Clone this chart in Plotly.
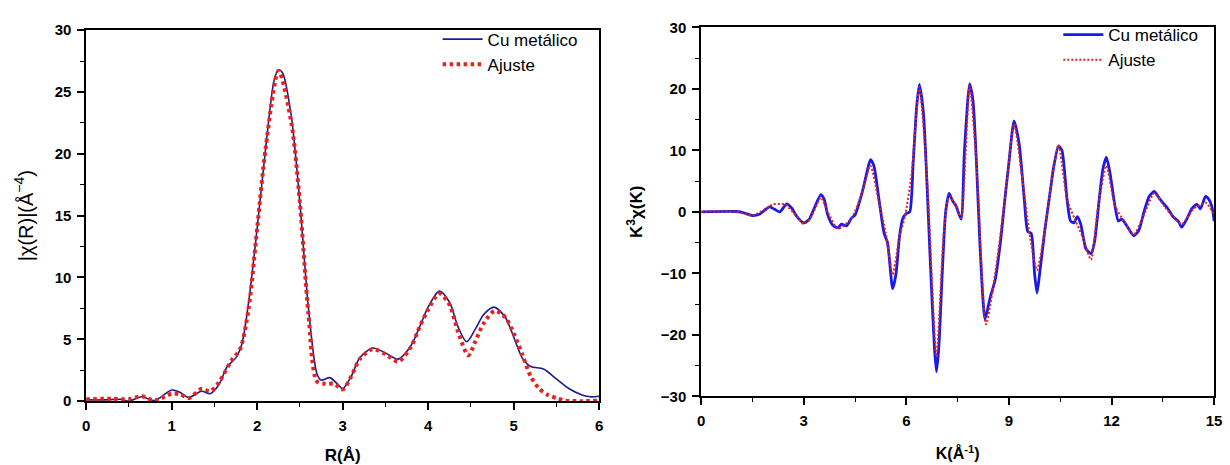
import plotly.graph_objects as go

# ---------------- Left panel: |chi(R)| ----------------
r_cu = [0, 0.2, 0.4, 0.5, 0.65, 0.8, 1.0, 1.1, 1.2, 1.35, 1.45, 1.55, 1.65, 1.75, 1.82, 1.9,
        2.0, 2.1, 2.2, 2.25, 2.3, 2.4, 2.5, 2.6, 2.7, 2.75, 2.85, 2.95, 3.0, 3.1, 3.2, 3.35,
        3.5, 3.65, 3.8, 3.9, 4.0, 4.13, 4.25, 4.35, 4.45, 4.55, 4.65, 4.77, 4.9, 5.0, 5.1,
        5.2, 5.35, 5.5, 5.65, 5.8, 5.9, 6.0]
chi_r_cu = [0.1, 0.1, 0.15, 0.0, 0.35, 0.05, 0.9, 0.7, 0.3, 0.8, 0.6, 1.3, 2.8, 3.5, 4.6, 8.0,
            14.0, 20.5, 26.0, 26.8, 26.5, 23.0, 16.0, 7.5, 2.2, 1.7, 1.9, 1.3, 1.0, 2.0, 3.5, 4.3,
            3.9, 3.4, 4.5, 6.0, 7.6, 8.9, 8.0, 6.0, 4.8, 5.8, 7.0, 7.6, 6.8, 5.2, 3.5,
            2.8, 2.6, 1.8, 1.0, 0.5, 0.35, 0.4]

r_fit = [0, 0.3, 0.5, 0.65, 0.8, 1.0, 1.1, 1.2, 1.35, 1.45, 1.55, 1.7, 1.8, 1.9, 2.0, 2.1,
         2.25, 2.4, 2.5, 2.6, 2.7, 2.8, 2.9, 3.0, 3.1, 3.2, 3.35, 3.5, 3.65, 3.8, 3.9, 4.0,
         4.13, 4.25, 4.35, 4.47, 4.55, 4.65, 4.78, 4.9, 5.0, 5.1, 5.2, 5.3, 5.4, 5.5, 5.6,
         5.8, 6.0]
chi_r_fit = [0.15, 0.2, 0.15, 0.4, 0.05, 0.6, 0.55, 0.25, 1.0, 0.8, 1.5, 3.3, 4.2, 7.5, 14.0, 20.5,
             26.7, 22.5, 16.0, 7.0, 1.6, 1.4, 1.4, 0.95, 2.0, 3.4, 4.2, 3.8, 3.2, 4.4, 6.0, 7.4,
             8.7, 7.8, 5.6, 3.7, 4.8, 6.3, 7.3, 6.8, 5.5, 3.8, 2.0, 1.0, 0.5, 0.25, 0.05,
             0.0, 0.05]

# ---------------- Right panel: k^3 chi(k) ----------------
k_cu = [0, 1.0, 1.2, 1.5, 1.7, 2.0, 2.15, 2.3, 2.5, 2.65, 2.8, 3.0, 3.15, 3.3, 3.5, 3.6, 3.7,
        3.85, 4.0, 4.1, 4.25, 4.4, 4.5, 4.7, 4.85, 4.95, 5.05, 5.2, 5.35, 5.45, 5.6, 5.7, 5.8,
        5.9, 6.0, 6.1, 6.2, 6.3, 6.38, 6.5, 6.6, 6.7, 6.82, 6.88, 6.95, 7.05, 7.15, 7.25, 7.35,
        7.45, 7.6, 7.7, 7.85, 7.95, 8.05, 8.15, 8.25, 8.3, 8.45, 8.6, 8.75, 8.9, 9.0, 9.15,
        9.3, 9.45, 9.55, 9.65, 9.75, 9.82, 9.9, 10.05, 10.2, 10.3, 10.45, 10.55, 10.7, 10.8,
        10.9, 11.0, 11.1, 11.25, 11.4, 11.5, 11.65, 11.75, 11.85, 11.95, 12.1, 12.2, 12.3,
        12.45, 12.65, 12.8, 12.95, 13.1, 13.25, 13.4, 13.5, 13.65, 13.8, 13.95, 14.05, 14.2,
        14.35, 14.5, 14.6, 14.75, 14.85, 14.95, 15.0]
k3chi_cu = [0, 0.05, -0.1, -0.6, -0.4, 0.8, 0.4, 0.0, 1.3, 0.6, -0.8, -1.8, -1.3, 0.5, 2.8, 2.0, -0.5,
            -2.2, -2.6, -2.0, -2.3, -1.0, -0.5, 3.0, 6.5, 8.5, 7.5, 2.0, -3.5, -5.0, -12.5, -10.0, -4.0,
            -1.0, -0.3, 0.0, 8.0, 17.0, 20.7, 16.0, 5.0, -8.0, -22.0, -26.0, -22.0, -10.0, 0.0, 3.0, 1.8,
            1.0, -1.2, 10.0, 20.8, 18.0, 8.0, -5.0, -15.0, -17.5, -14.0, -11.0, -5.0, 3.0, 8.0, 14.8,
            11.0, 2.0, -3.2, -3.5, -10.0, -13.2, -10.0, -3.0, 3.0, 7.0, 10.7, 10.0, 2.0, -1.5,
            -1.8, -0.8, -2.0, -6.0, -6.8, -5.0, 2.5, 7.0, 8.9, 6.5, 1.0, -1.5, -1.2,
            -2.3, -3.9, -3.0, 0.0, 2.5, 3.3, 2.2, 1.5, 0.5, -0.8, -1.5, -2.5, -1.2,
            0.5, 1.2, 0.5, 2.5, 2.0, 0.5, -1.5]

k_fit = [0, 1.0, 1.5, 2.0, 2.1, 2.45, 2.8, 3.0, 3.2, 3.5, 3.7, 4.0, 4.4, 4.7, 4.95, 5.2, 5.4,
         5.6, 5.8, 5.95, 6.15, 6.38, 6.6, 6.88, 7.1, 7.25, 7.45, 7.6, 7.85, 8.05, 8.33, 8.6,
         8.9, 9.15, 9.4, 9.6, 9.82, 10.05, 10.25, 10.45, 10.7, 10.95, 11.15, 11.4, 11.6, 11.85,
         12.1, 12.4, 12.65, 12.95, 13.25, 13.6, 14.05, 14.4, 14.75, 15.0]
k3chi_fit = [0, 0.05, -0.6, 0.9, 1.2, 1.2, -0.8, -2.0, -1.0, 2.3, 0.0, -2.8, -1.0, 3.0, 7.5, 1.5, -3.5,
             -10.2, -4.0, -1.0, 6.0, 20.3, 6.0, -23.5, -3.0, 2.5, 1.0, -1.0, 20.5, 8.0, -18.3, -10.0,
             3.0, 14.3, 5.0, -3.5, -9.5, -3.0, 5.0, 10.9, 2.0, -1.5, -4.0, -7.8, 0.5, 7.5,
             1.0, -1.8, -3.7, -0.5, 3.0, 0.5, -2.0, 0.5, 1.5, -0.5]

LEFT_BLUE = "#1c1c8f"
RIGHT_BLUE = "#1a1ae6"
RED = "#e3231c"
FONT = "Liberation Sans, Arial, sans-serif"

fig = go.Figure()

fig.add_trace(go.Scatter(x=r_cu, y=chi_r_cu, mode="lines", name="Cu metálico",
                         line=dict(color=LEFT_BLUE, width=1.6, shape="spline", smoothing=0.8),
                         xaxis="x", yaxis="y", legend="legend"))
fig.add_trace(go.Scatter(x=r_fit, y=chi_r_fit, mode="lines", name="Ajuste",
                         line=dict(color=RED, width=4, dash="3.5px,3.5px", shape="spline", smoothing=0.8),
                         xaxis="x", yaxis="y", legend="legend"))
fig.add_trace(go.Scatter(x=k_cu, y=k3chi_cu, mode="lines", name="Cu metálico",
                         line=dict(color=RIGHT_BLUE, width=2.8, shape="spline", smoothing=0.6),
                         xaxis="x2", yaxis="y2", legend="legend2"))
fig.add_trace(go.Scatter(x=k_fit, y=k3chi_fit, mode="lines", name="Ajuste",
                         line=dict(color=RED, width=2, dash="2px,2px", shape="spline", smoothing=0.6),
                         xaxis="x2", yaxis="y2", legend="legend2"))

axis_common = dict(showline=True, linecolor="black", linewidth=1.8, mirror=True,
                   ticks="outside", ticklen=7, tickwidth=1.6, tickcolor="black",
                   showgrid=False, zeroline=False, ticklabelstandoff=3,
                   tickfont=dict(family=FONT, size=15, color="black", weight="bold"))
minor_common = dict(ticks="outside", ticklen=4, tickwidth=1.4, tickcolor="black")

fig.update_layout(
    width=1230, height=465,
    margin=dict(l=0, r=0, t=0, b=0),
    paper_bgcolor="white", plot_bgcolor="white",
    font=dict(family=FONT, color="black"),
    xaxis=dict(domain=[0.0675, 0.4886], range=[0, 6], dtick=1, anchor="y",
               minor=dict(dtick=0.5, **minor_common),
               title=dict(text="R(Å)", font=dict(family=FONT, size=17, weight="bold"), standoff=18),
               **axis_common),
    yaxis=dict(domain=[0.1247, 0.9527], range=[0, 30], dtick=5, anchor="x",
               minor=dict(dtick=2.5, **minor_common),
               title=dict(text="|χ(R)|(Å<sup>−4</sup>)", font=dict(family=FONT, size=20), standoff=16),
               **axis_common),
    xaxis2=dict(domain=[0.5724, 0.9935], range=[0, 15], dtick=3, anchor="y2",
                minor=dict(dtick=1.5, **minor_common),
                title=dict(text="K(Å<sup>-1</sup>)", font=dict(family=FONT, size=16, weight="bold"), standoff=20),
                **axis_common),
    yaxis2=dict(domain=[0.1355, 0.9591], range=[-30, 30], dtick=10, anchor="x2",
                minor=dict(dtick=5, **minor_common),
                title=dict(text="K<sup>3</sup>χ(K)", font=dict(family=FONT, size=17, weight="bold"), standoff=14),
                **axis_common),
    legend=dict(x=0.356, y=0.972, xanchor="left", yanchor="top", bgcolor="rgba(0,0,0,0)",
                font=dict(family=FONT, size=17), tracegroupgap=0, itemwidth=40),
    legend2=dict(x=0.8656, y=0.982, xanchor="left", yanchor="top", bgcolor="rgba(0,0,0,0)",
                 font=dict(family=FONT, size=17), tracegroupgap=0, itemwidth=40),
    showlegend=True,
)

fig.write_html("out.html")
